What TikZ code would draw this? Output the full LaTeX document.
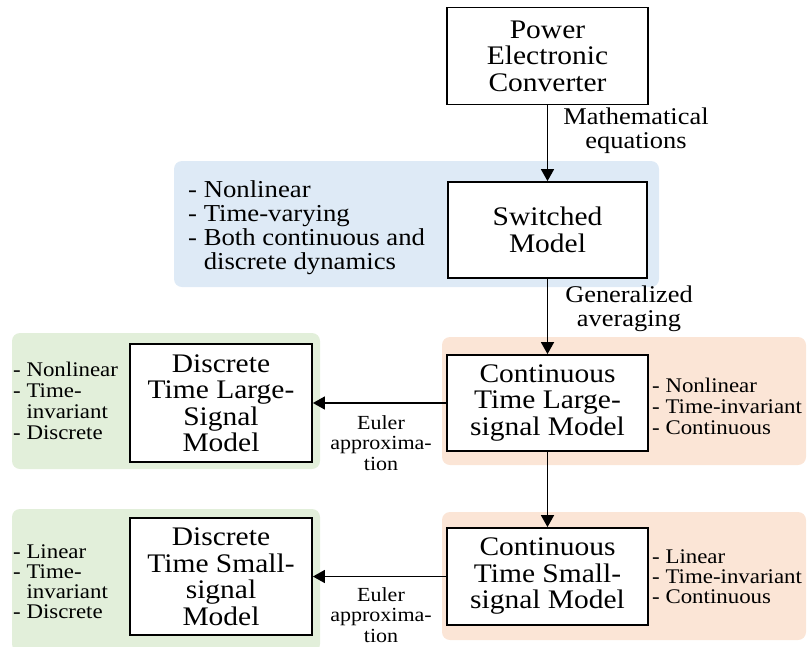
\documentclass[tikz,border=0pt]{standalone}
\usepackage{fontspec}
\setmainfont{Liberation Serif}[FakeStretch=1.1]
\usetikzlibrary{arrows.meta}
\definecolor{bluebg}{HTML}{DEEAF6}
\definecolor{orangebg}{HTML}{FBE5D6}
\definecolor{greenbg}{HTML}{E2EFDA}
\tikzset{
  modelbox/.style={draw=black, line width=1.8pt, fill=white, align=center, inner sep=0pt,
    font=\fontsize{26.8}{26.5}\selectfont},
  region/.style={rounded corners=8pt},
  arr/.style={line width=1.6pt, -{Triangle[length=12pt,width=13pt]}},
  bigtxt/.style={align=left, anchor=west, inner sep=0pt, font=\fontsize{24.3}{24}\selectfont},
  smalltxt/.style={align=left, anchor=west, inner sep=0pt, font=\fontsize{20.8}{21}\selectfont},
  smalltxtb/.style={align=left, anchor=west, inner sep=0pt, font=\fontsize{20.8}{20}\selectfont},
  edgetxt/.style={align=center, inner sep=0pt, font=\fontsize{24}{24}\selectfont},
  eulertxt/.style={align=center, inner sep=0pt, font=\fontsize{20}{20.5}\selectfont},
}
\begin{document}
\begin{tikzpicture}[x=1pt, y=-1pt]
\useasboundingbox (0,0) rectangle (808,646);
% background regions
\fill[bluebg, region] (174,161) rectangle (659,287);
\fill[orangebg, region] (442,337) rectangle (806,465);
\fill[orangebg, region] (442,512) rectangle (806,640);
\fill[greenbg, region] (12,333) rectangle (320,469);
\fill[greenbg, region] (12,509) rectangle (320,652);
% boxes
\node[modelbox, minimum width=201pt, minimum height=97pt] (pec) at (547.5,56) {Power\\Electronic\\Converter};
\node[modelbox, minimum width=199pt, minimum height=96pt] (sw) at (547.5,230) {Switched\\Model};
\node[modelbox, minimum width=201pt, minimum height=96pt] (ctl) at (547.5,403) {Continuous\\Time Large-\\signal Model};
\node[modelbox, minimum width=201pt, minimum height=97pt] (cts) at (547.5,576.5) {Continuous\\Time Small-\\signal Model};
\node[modelbox, minimum width=182pt, minimum height=118pt] (dtl) at (221,403) {Discrete\\Time Large-\\Signal\\Model};
\node[modelbox, minimum width=182pt, minimum height=117pt] (dts) at (221,576.5) {Discrete\\Time Small-\\signal\\Model};
% property lists
\node[bigtxt] (swprop) at (188,228) {- Nonlinear\\- Time-varying\\- Both continuous and\\\hphantom{- }discrete dynamics};
\node[smalltxt] (ctlprop) at (652,406) {- Nonlinear\\- Time-invariant\\- Continuous};
\node[smalltxtb] (ctsprop) at (652,577) {- Linear\\- Time-invariant\\- Continuous};
\node[smalltxt] (dtlprop) at (13,401) {- Nonlinear\\- Time-\\\hphantom{- }invariant\\- Discrete};
\node[smalltxtb] (dtsprop) at (13,582) {- Linear\\- Time-\\\hphantom{- }invariant\\- Discrete};
% connectors
\draw[arr] (pec) -- (sw);
\draw[arr] (sw) -- (ctl);
\draw[arr] (ctl) -- (cts);
\draw[arr] (ctl) -- (dtl);
\draw[arr] (cts) -- (dts);
% connector labels
\node[edgetxt] (lbl1) at (636,130.5) {Mathematical\\equations};
\node[edgetxt] (lbl2) at (629,309) {Generalized\\averaging};
\node[eulertxt] (lbl3) at (381,443) {Euler\\approxima-\\tion};
\node[eulertxt] (lbl4) at (381,615) {Euler\\approxima-\\tion};
\end{tikzpicture}
\end{document}
